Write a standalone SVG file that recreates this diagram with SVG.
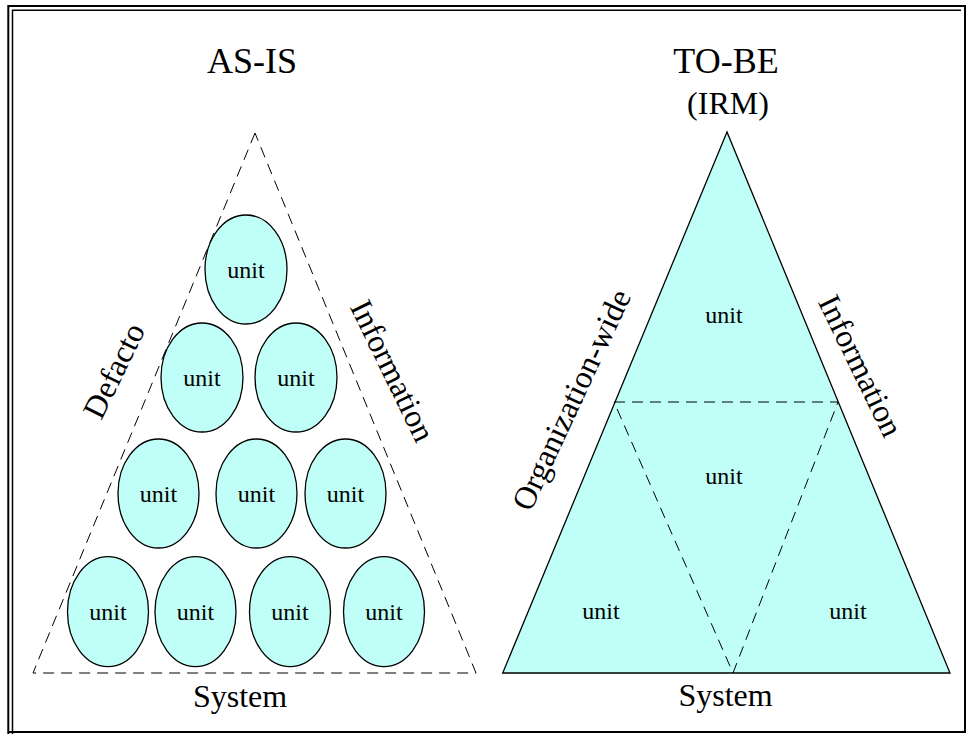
<svg xmlns="http://www.w3.org/2000/svg" width="967" height="734" viewBox="0 0 967 734">
<style>
  .t{font-family:"Liberation Serif","Times New Roman",serif;fill:#000}
  .h{font-size:36px;text-anchor:middle}
  .l{font-size:32px;text-anchor:middle}
  .u{font-size:24px;text-anchor:middle}
  .ell{fill:#BFFFF7;stroke:#000;stroke-width:1.3}
  .dash{fill:none;stroke:#000;stroke-width:1;stroke-dasharray:11 7}
</style>
<rect width="967" height="734" fill="#fff"/>
<g id="frame" fill="none" stroke="#000">
  <polyline points="8.3,734 8.3,6 965,6 965,732 8.3,732" stroke-width="2"/>
  <polyline points="12.5,734 12.5,10.2 961,10.2" stroke-width="1.5"/>
</g>
<g id="asis">
  <text class="t h" x="252" y="73">AS-IS</text>
  <polygon class="dash" points="255,133 33,673 476,673"/>
  <text class="t l" x="240" y="707">System</text>
  <text class="t l" transform="translate(114.5,371) rotate(-64)" y="10">Defacto</text>
  <text class="t l" transform="translate(392,371) rotate(64)" y="10">Information</text>
</g>
<g id="u1"><ellipse class="ell" cx="246" cy="269.5" rx="41" ry="54.5"/><text class="t u" x="246" y="278">unit</text></g>
<g id="u2"><ellipse class="ell" cx="202" cy="377.5" rx="41" ry="54.5"/><text class="t u" x="202" y="386">unit</text></g>
<g id="u3"><ellipse class="ell" cx="296" cy="377.5" rx="41" ry="54.5"/><text class="t u" x="296" y="386">unit</text></g>
<g id="u4"><ellipse class="ell" cx="158.5" cy="493.5" rx="40.5" ry="54.5"/><text class="t u" x="158.5" y="502">unit</text></g>
<g id="u5"><ellipse class="ell" cx="256.5" cy="493.5" rx="40.5" ry="54.5"/><text class="t u" x="256.5" y="502">unit</text></g>
<g id="u6"><ellipse class="ell" cx="345.5" cy="493.5" rx="40.5" ry="54.5"/><text class="t u" x="345.5" y="502">unit</text></g>
<g id="u7"><ellipse class="ell" cx="108" cy="611.7" rx="40.5" ry="55"/><text class="t u" x="108" y="620">unit</text></g>
<g id="u8"><ellipse class="ell" cx="195.5" cy="611.7" rx="40.5" ry="55"/><text class="t u" x="195.5" y="620">unit</text></g>
<g id="u9"><ellipse class="ell" cx="290" cy="611.7" rx="40.5" ry="55"/><text class="t u" x="290" y="620">unit</text></g>
<g id="u10"><ellipse class="ell" cx="384" cy="611.7" rx="40.5" ry="55"/><text class="t u" x="384" y="620">unit</text></g>
<g id="tobe">
  <text class="t h" x="726" y="73">TO-BE</text>
  <text class="t l" x="728" y="114">(IRM)</text>
  <polygon points="727,132 502.7,673 950,673" fill="#BFFFF7" stroke="#000" stroke-width="1.3"/>
  <text class="t l" x="725.5" y="706">System</text>
  <text class="t l" transform="translate(572,400) rotate(-65)" y="10">Organization-wide</text>
  <text class="t l" transform="translate(860,366) rotate(64)" y="10">Information</text>
</g>
<g id="connectors">
  <polyline class="dash" points="614,402 838,402 733,673 614,402"/>
</g>
<g id="tobe-units">
  <text class="t u" x="724" y="323">unit</text>
  <text class="t u" x="724" y="484">unit</text>
  <text class="t u" x="601" y="619">unit</text>
  <text class="t u" x="848" y="619">unit</text>
</g>
</svg>
